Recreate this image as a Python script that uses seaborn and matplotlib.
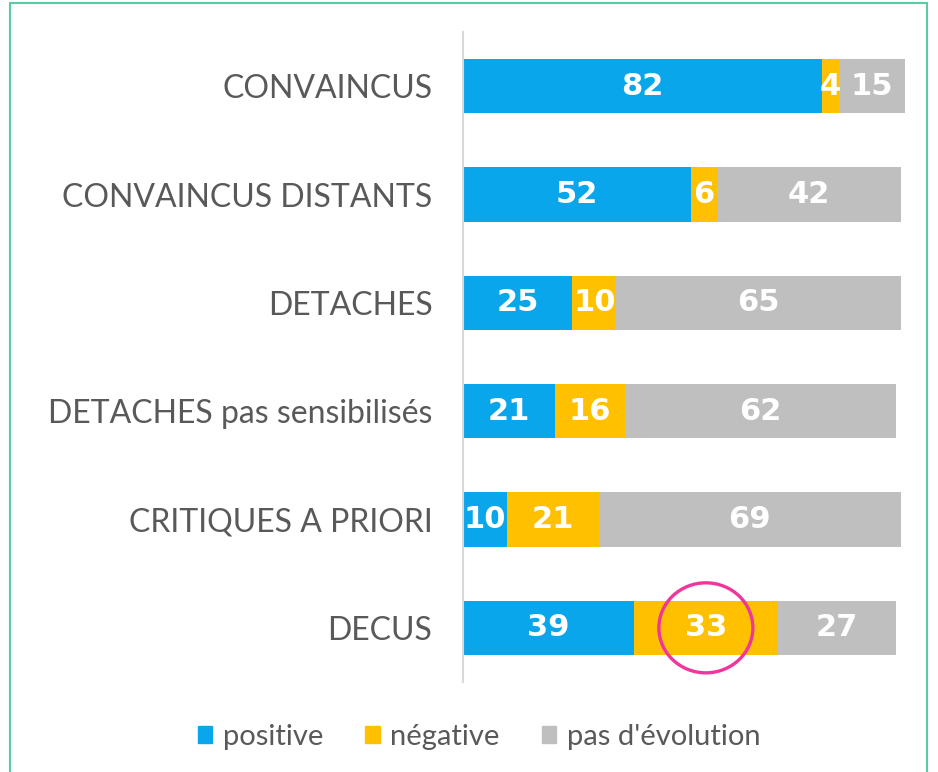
import matplotlib
matplotlib.use("Agg")
import matplotlib.pyplot as plt
import seaborn as sns
import pandas as pd
from matplotlib.patches import Ellipse, Rectangle

categories = ["CONVAINCUS", "CONVAINCUS DISTANTS", "DETACHES",
              "DETACHES pas sensibilisés", "CRITIQUES A PRIORI", "DECUS"]
positive = [82, 52, 25, 21, 10, 39]
negative = [4, 6, 10, 16, 21, 33]
no_change = [15, 42, 65, 62, 69, 27]
series_names = ["positive", "négative", "pas d'évolution"]
colors = ["#0AA6EC", "#FFC000", "#BFBFBF"]

sns.set_style("white")
plt.rcParams["font.family"] = ["Lato", "DejaVu Sans"]

df = pd.DataFrame({"cat": categories, "pos": positive, "neg": negative, "nc": no_change})
df["c1"] = df["pos"]
df["c2"] = df["pos"] + df["neg"]
df["c3"] = df["c2"] + df["nc"]

fig = plt.figure(figsize=(9.38, 7.72), dpi=100)
ax = fig.add_axes([463/938, 1-682/772, 442/938, 650/772])

for col, color in zip(["c3", "c2", "c1"], colors[::-1]):
    sns.barplot(data=df, x=col, y="cat", orient="h", color=color, width=0.5,
                saturation=1, ax=ax, edgecolor="none", linewidth=0)

ax.set_xlim(0, 101)
ax.set_ylim(5.5, -0.5)
ax.set_xlabel("")
ax.set_ylabel("")
ax.set_xticks([])
for s in ["top", "right", "bottom"]:
    ax.spines[s].set_visible(False)
ax.spines["left"].set_color("#D9D9D9")
ax.spines["left"].set_linewidth(1.5)
ax.tick_params(axis="y", length=0, pad=22)
for lbl in ax.get_yticklabels():
    lbl.set_fontsize(23)
    lbl.set_color("#595959")
    lbl.set_fontweight("normal")

for i in range(len(categories)):
    starts = [0, positive[i], positive[i] + negative[i]]
    vals = [positive[i], negative[i], no_change[i]]
    for s, v in zip(starts, vals):
        ax.text(s + v / 2, i, str(v), ha="center", va="center", color="white",
                fontsize=22, fontweight="bold", family="DejaVu Sans")

# highlight circle around DECUS négative
ax.add_patch(Ellipse((39 + 33 / 2, 5), width=2 * 47 / 4.376, height=2 * 45 / 108.3,
                     fill=False, edgecolor="#F0369A", linewidth=2.4, zorder=5))

handles = [Rectangle((0, 0), 1, 1, color=c) for c in colors]
leg = fig.legend(handles, series_names, loc="center", bbox_to_anchor=(479/938, 1-737/772),
                 ncol=3, frameon=False, fontsize=21, handlelength=0.5, handleheight=0.5,
                 handletextpad=0.35, columnspacing=1.45)
for t in leg.get_texts():
    t.set_color("#595959")

fig.patches.append(Rectangle((10/938, -0.01), 917/938, 1 - 3/772 + 0.01, transform=fig.transFigure,
                             fill=False, edgecolor="#5CC9A7", linewidth=1.5))

fig.savefig("out.png", dpi=100)
